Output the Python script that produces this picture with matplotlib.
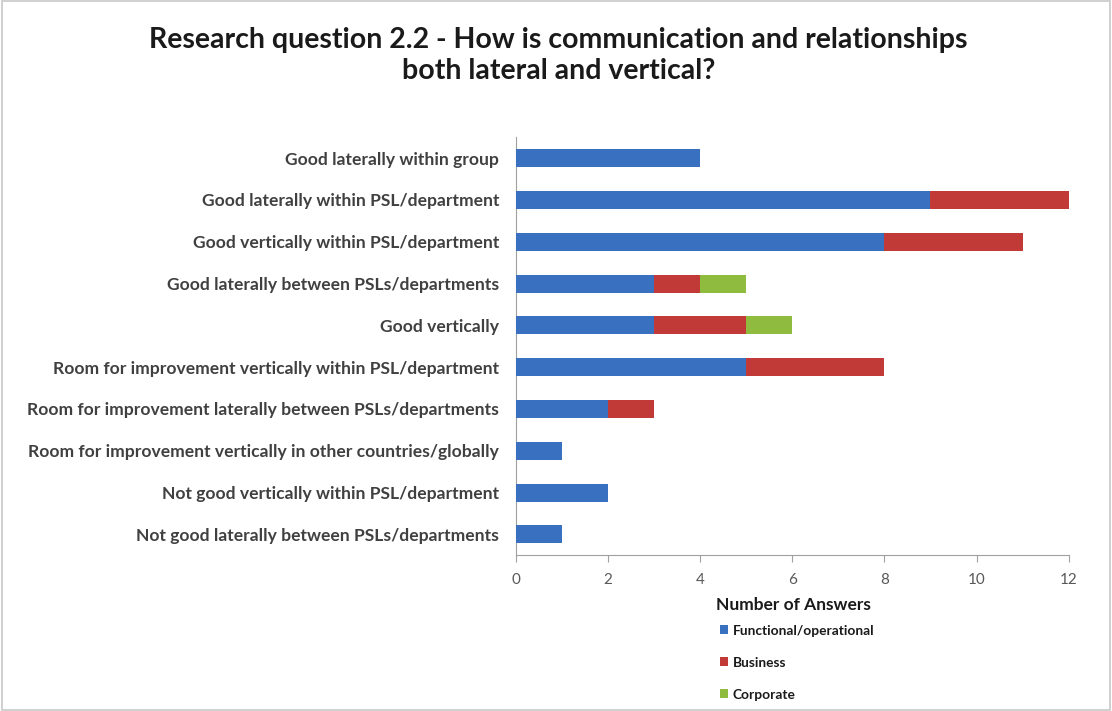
import matplotlib.pyplot as plt
import numpy as np
from matplotlib.patches import Rectangle

plt.rcParams['font.family'] = ['Lato', 'DejaVu Sans']

categories = [
    "Good laterally within group",
    "Good laterally within PSL/department",
    "Good vertically within PSL/department",
    "Good laterally between PSLs/departments",
    "Good vertically",
    "Room for improvement vertically within PSL/department",
    "Room for improvement laterally between PSLs/departments",
    "Room for improvement vertically in other countries/globally",
    "Not good vertically within PSL/department",
    "Not good laterally between PSLs/departments",
]
functional = [4, 9, 8, 3, 3, 5, 2, 1, 2, 1]
business = [0, 3, 3, 1, 2, 3, 1, 0, 0, 0]
corporate = [0, 0, 0, 1, 1, 0, 0, 0, 0, 0]

series_names = ["Functional/operational", "Business", "Corporate"]
colors = ["#3a70c0", "#c23a38", "#8fbb3e"]

fig = plt.figure(figsize=(11.12, 7.11), dpi=100)
fig.patches.append(Rectangle((0.002, 0.002), 0.996, 0.996, transform=fig.transFigure,
                             fill=False, edgecolor="#c8c8c8", linewidth=1.2))
ax = fig.add_axes([0.464, 0.219, 0.497, 0.588])

y = np.arange(len(categories))
left = np.zeros(len(categories))
for vals, name, c in zip([functional, business, corporate], series_names, colors):
    ax.barh(y, vals, left=left, height=0.43, color=c, label=name, zorder=3)
    left += np.array(vals)

ax.set_ylim(len(categories) - 0.5, -0.5)
ax.set_xlim(0, 12)
ax.set_xticks(range(0, 13, 2))
ax.set_yticks(y)
ax.set_yticklabels(categories, fontsize=12.6, fontweight='bold', color="#404040")
ax.tick_params(axis='y', length=0, pad=12)
ax.tick_params(axis='x', labelsize=11, colors="#595959", length=5, direction='out',
               color="#a0a0a0", pad=8)
for s in ['top', 'right', 'bottom']:
    ax.spines[s].set_visible(False)
ax.spines['left'].set_color("#a0a0a0")
ax.plot([0, 12], [len(categories) - 0.5] * 2, color="#a0a0a0", lw=0.8, clip_on=False)

fig.text(0.502, 0.922, "Research question 2.2 - How is communication and relationships\nboth lateral and vertical?",
         ha='center', va='center', fontsize=20.5, fontweight='bold', color="#1a1a1a",
         linespacing=1.25)

# legend title as plain text, entries below it
fig.text(0.644, 0.149, "Number of Answers", fontsize=12.5, fontweight='bold',
         color="#1a1a1a", ha='left', va='center')
leg = fig.legend(loc='upper left', bbox_to_anchor=(0.639, 0.135), frameon=False,
                 fontsize=9.9, handlelength=0.6, handleheight=0.6,
                 handletextpad=0.3, labelspacing=1.45, borderpad=0.2)
for t in leg.get_texts():
    t.set_fontweight('bold')
    t.set_color("#1a1a1a")

fig.savefig("out.png", dpi=100)
